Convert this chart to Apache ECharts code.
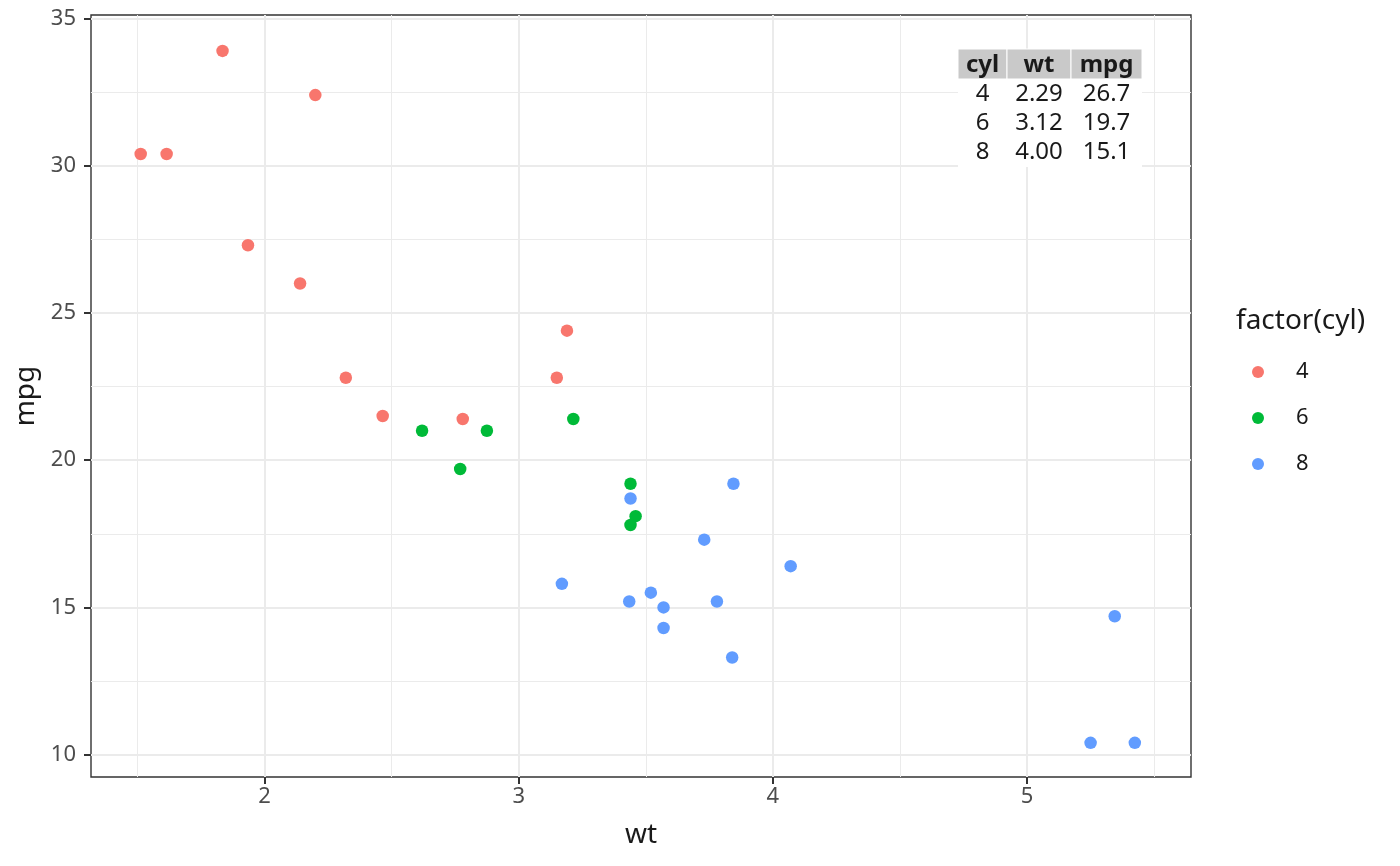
<!DOCTYPE html>
<html>
<head>
<meta charset="utf-8">
<title>mpg vs wt</title>
<script src="https://cdn.jsdelivr.net/npm/echarts@6/dist/echarts.min.js"></script>
<style>
html, body { margin: 0; padding: 0; background: #fff; }
#main { width: 1400px; height: 866px; }
</style>
</head>
<body>
<div id="main"></div>
<script>
// mtcars, split by cylinders
var wt4  = [2.320, 3.190, 3.150, 2.200, 1.615, 1.835, 2.465, 1.935, 2.140, 1.513, 2.780];
var mpg4 = [22.8, 24.4, 22.8, 32.4, 30.4, 33.9, 21.5, 27.3, 26.0, 30.4, 21.4];
var wt6  = [2.620, 2.875, 3.215, 3.460, 3.440, 3.440, 2.770];
var mpg6 = [21.0, 21.0, 21.4, 18.1, 19.2, 17.8, 19.7];
var wt8  = [3.440, 3.570, 4.070, 3.730, 3.780, 5.250, 5.424, 5.345, 3.520, 3.435, 3.840, 3.845, 3.170, 3.570];
var mpg8 = [18.7, 14.3, 16.4, 17.3, 15.2, 10.4, 10.4, 14.7, 15.5, 15.2, 13.3, 19.2, 15.8, 15.0];

var cylNames = ['4', '6', '8'];
var cylColors = ['#F8766D', '#00BA38', '#619CFF'];

var xMajor = [2, 3, 4, 5];
var xMinor = [1.5, 2.5, 3.5, 4.5, 5.5];
var yMajor = [10, 15, 20, 25, 30, 35];
var yMinor = [12.5, 17.5, 22.5, 27.5, 32.5];

// summary table in the corner
var tableHead = ['cyl', 'wt', 'mpg'];
var tableRows = [
    ['4', '2.29', '26.7'],
    ['6', '3.12', '19.7'],
    ['8', '4.00', '15.1']
];

// axis limits
var xMin = 1.3175, xMax = 5.645;
var yMin = 9.24, yMax = 35.12;

function pairs(xs, ys) {
    var out = [];
    for (var i = 0; i < xs.length; i++) out.push([xs[i], ys[i]]);
    return out;
}
var groups = [pairs(wt4, mpg4), pairs(wt6, mpg6), pairs(wt8, mpg8)];

var FONT = 'Noto Sans';
var labelStyle = { color: '#4d4d4d', fontSize: 22, fontFamily: FONT };
var nameStyle = { color: '#1a1a1a', fontSize: 28, fontFamily: FONT };

// table drawn as graphic elements (above the grid lines)
var colW = [49, 64, 71];
var tX = 958, tY = 49, headH = 30, rowH = 29;
var tableEls = [];
tableEls.push({ type: 'rect', z: 100, shape: { x: tX, y: tY + headH, width: colW[0] + colW[1] + colW[2], height: rowH * tableRows.length + 1 },
    style: { fill: '#fff' } });
var cx = tX;
for (var c = 0; c < tableHead.length; c++) {
    tableEls.push({ type: 'rect', z: 100, shape: { x: cx, y: tY, width: colW[c], height: headH },
        style: { fill: '#c9c9c9', stroke: '#fff', lineWidth: 1 } });
    tableEls.push({ type: 'text', z: 101, x: cx + colW[c] / 2, y: tY + headH / 2 + 1,
        style: { text: tableHead[c], fill: '#1a1a1a', fontSize: 24, fontWeight: 'bold', fontFamily: FONT,
            align: 'center', verticalAlign: 'middle' } });
    cx += colW[c];
}
for (var r = 0; r < tableRows.length; r++) {
    cx = tX;
    for (c = 0; c < tableRows[r].length; c++) {
        tableEls.push({ type: 'text', z: 101, x: cx + colW[c] / 2, y: tY + headH + rowH * r + rowH / 2 + 1,
            style: { text: tableRows[r][c], fill: '#1a1a1a', fontSize: 24, fontFamily: FONT,
                align: 'center', verticalAlign: 'middle' } });
        cx += colW[c];
    }
}
// legend title
tableEls.push({ type: 'text', x: 1236, y: 321,
    style: { text: 'factor(cyl)', fill: '#1a1a1a', fontSize: 28, fontFamily: FONT, align: 'left', verticalAlign: 'middle' } });

var chart = echarts.init(document.getElementById('main'));
chart.setOption({
    backgroundColor: '#fff',
    animation: false,
    legend: {
        data: cylNames,
        orient: 'vertical',
        left: 1247, top: 356,
        itemWidth: 12, itemHeight: 12,
        itemGap: 24,
        icon: 'circle',
        textStyle: { color: '#1a1a1a', fontSize: 22, fontFamily: FONT, padding: [0, 0, 0, 27] }
    },
    grid: {
        left: 91, right: 209, top: 15, bottom: 89,
        show: true, borderColor: '#333333', borderWidth: 1.4, backgroundColor: '#fff'
    },
    xAxis: [{
        type: 'value', min: xMin, max: xMax,
        axisLine: { show: false },
        axisTick: { show: false, customValues: xMinor },
        axisLabel: { show: false },
        splitLine: { show: true, lineStyle: { color: '#ebebeb', width: 1 } }
    }, {
        type: 'value', min: xMin, max: xMax, position: 'bottom',
        name: 'wt', nameLocation: 'middle', nameGap: 44,
        nameTextStyle: nameStyle,
        axisLine: { show: false },
        axisTick: { show: true, length: 7, customValues: xMajor, lineStyle: { color: '#333', width: 2 } },
        axisLabel: Object.assign({ customValues: xMajor, margin: 9 }, labelStyle),
        splitLine: { show: true, lineStyle: { color: '#ebebeb', width: 2 } }
    }],
    yAxis: [{
        type: 'value', min: yMin, max: yMax,
        axisLine: { show: false },
        axisTick: { show: false, customValues: yMinor },
        axisLabel: { show: false },
        splitLine: { show: true, lineStyle: { color: '#ebebeb', width: 1 } }
    }, {
        type: 'value', min: yMin, max: yMax, position: 'left',
        name: 'mpg', nameLocation: 'middle', nameGap: 42, nameRotate: 90,
        nameTextStyle: nameStyle,
        axisLine: { show: false },
        axisTick: { show: true, length: 7, customValues: yMajor, lineStyle: { color: '#333', width: 2 } },
        axisLabel: Object.assign({ customValues: yMajor, margin: 15 }, labelStyle),
        splitLine: { show: true, lineStyle: { color: '#ebebeb', width: 2 } }
    }],
    series: cylNames.map(function (name, i) {
        return {
            name: name, type: 'scatter',
            xAxisIndex: 1, yAxisIndex: 1,
            symbol: 'circle', symbolSize: 12.5,
            itemStyle: { color: cylColors[i], opacity: 1 },
            data: groups[i]
        };
    }),
    graphic: tableEls
});
</script>
</body>
</html>
